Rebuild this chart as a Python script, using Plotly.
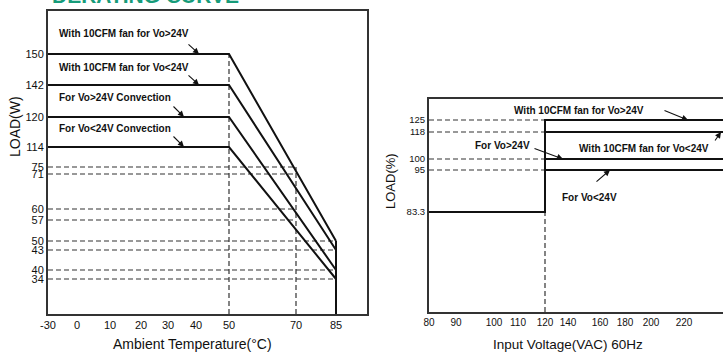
import numpy as np
import plotly.graph_objects as go

# ---------------- data ----------------
# Left chart: derating vs ambient temperature
temp_ticks = [-30, 0, 10, 20, 30, 40, 50, 70, 85]
load_ticks = [34, 40, 43, 50, 57, 60, 71, 75, 114, 120, 142, 150]

curve_names = ["With 10CFM fan for Vo>24V", "With 10CFM fan for Vo<24V",
               "For Vo>24V Convection", "For Vo<24V Convection"]
curve_temps = [-30, 50, 85]
fan_gt24 = [150, 150, 50]
fan_lt24 = [142, 142, 43]
conv_gt24 = [120, 120, 40]
conv_lt24 = [114, 114, 34]
mid_levels = [75, 71, 60, 57]      # reference levels read at 70 °C
end_levels = [50, 43, 40, 34]      # levels at 85 °C

# Right chart: derating vs input voltage
volt_ticks = [80, 90, 100, 110, 120, 140, 160, 180, 200, 220]
pct_ticks = [83.3, 95, 100, 118, 125]
volt_pts = [80, 120, 120, 264]
low_pct = 83.3
pct_levels = [125, 118, 100, 95]
pct_names = ["With 10CFM fan for Vo>24V", "With 10CFM fan for Vo<24V",
             "For Vo>24V", "For Vo<24V"]

# ---------------- axis scales (piecewise, as drawn in the original) ----------------
temp_scale = [0, 29, 62, 93, 120, 148, 181, 248, 288]
load_scale = [0, 35, 44, 64, 73, 94, 105, 140, 147, 167, 197, 229, 260]
volt_scale = [0, 27, 65, 89, 116, 139, 171, 196, 222, 255]
pct_scale = [0, 100, 142, 153, 180, 192]


def sx(v):
    return np.interp(v, temp_ticks, temp_scale)


def sy(v):
    return np.interp(v, [0] + load_ticks, load_scale)


def sv(v):
    v = np.asarray(v, dtype=float)
    out = np.interp(v, volt_ticks, volt_scale)
    slope = (volt_scale[-1] - volt_scale[-2]) / (volt_ticks[-1] - volt_ticks[-2])
    return np.where(v > volt_ticks[-1], volt_scale[-1] + (v - volt_ticks[-1]) * slope, out)


def sp(v):
    return np.interp(v, [0] + pct_ticks, pct_scale)


FONT = "Liberation Sans, Arial, sans-serif"
DASH = "5px,3px"
fig = go.Figure()


def line(xs, ys, xa="x", ya="y", dash=None, width=2.0, color="#111"):
    fig.add_trace(go.Scatter(x=xs, y=ys, xaxis=xa, yaxis=ya, mode="lines",
                             line=dict(color=color, width=width, dash=dash),
                             hoverinfo="skip", showlegend=False))


# ---- left chart ----
line(sx([50, 50]), sy([0, 150]), dash=DASH, width=1.2, color="#333")
line(sx([70, 70]), sy([0, 75]), dash=DASH, width=1.2, color="#333")
for lv in mid_levels:
    line(sx([-30, 70]), sy([lv, lv]), dash=DASH, width=1.2, color="#333")
for lv in end_levels:
    line(sx([-30, 85]), sy([lv, lv]), dash=DASH, width=1.2, color="#333")
for vals in [fan_gt24, fan_lt24, conv_gt24, conv_lt24]:
    line(sx(curve_temps), sy(vals))
line(sx([85, 85]), sy([0, max(end_levels)]))

# ---- right chart ----
for lv in pct_levels:
    line(sv([80, 120]), sp([lv, lv]), "x2", "y2", dash=DASH, width=1.2, color="#333")
line(sv([120, 120]), sp([0, low_pct]), "x2", "y2", dash=DASH, width=1.2, color="#333")
for lv in pct_levels:
    line(sv(volt_pts), sp([low_pct, low_pct, lv, lv]), "x2", "y2")

# ---------------- annotations ----------------
ann = []


def text(x, y, s, xref="x", yref="y", xanchor="left", size=10, bold=True):
    ann.append(dict(x=x, y=y, xref=xref, yref=yref, text=f"<b>{s}</b>" if bold else s,
                    showarrow=False, xanchor=xanchor, yanchor="middle",
                    font=dict(family=FONT, size=size, color="#111")))


def arrow(x, y, ax, ay, xref="x", yref="y"):
    ann.append(dict(x=x, y=y, xref=xref, yref=yref, text="", showarrow=True,
                    ax=ax, ay=ay, arrowhead=2, arrowsize=1.1, arrowwidth=1.1,
                    arrowcolor="#111", standoff=0, startstandoff=0))


def title(x, y, s, size, angle=0):
    ann.append(dict(x=x / 723, y=(352 - y) / 352, xref="paper", yref="paper",
                    text=s, textangle=angle, showarrow=False,
                    xanchor="center", yanchor="middle",
                    font=dict(family=FONT, size=size, color="#111")))


# left labels
text(9, 281, curve_names[0])
text(9, 247, curve_names[1])
text(9, 217, curve_names[2])
text(9, 186, curve_names[3])
arrow(151, sy(150), -12, -11)
arrow(151, sy(142), -12, -11)
arrow(136, sy(120), -12, -12)
arrow(136, sy(114), -12, -12)

# right labels
text(83, 202, pct_names[0], "x2", "y2")
text(103, 167, pct_names[2], "x2", "y2", xanchor="right")
text(148, 164, pct_names[1], "x2", "y2")
text(131, 115, pct_names[3], "x2", "y2")
arrow(259, sp(125), -25, -10, "x2", "y2")
arrow(134, sp(100), -30, -11, "x2", "y2")
arrow(292, sp(118), -7, 10, "x2", "y2")
arrow(181, sp(95), -15, 13, "x2", "y2")

# axis titles
title(192, 344, "Ambient Temperature(°C)", 14)
title(15, 127, "LOAD(W)", 14, -90)
title(568, 344, "Input Voltage(VAC) 60Hz", 13.5)
title(390, 181, "LOAD(%)", 13, -90)

# cropped title
ann.append(dict(x=50 / 723, y=1 - 9 / 352, xref="paper", yref="paper",
                text="<b>DERATING CURVE</b>", showarrow=False, xanchor="left", yanchor="bottom",
                font=dict(family=FONT, size=21, color="#169b79")))

axis_common = dict(showgrid=False, zeroline=False, showline=True, mirror=True,
                   linecolor="#333", linewidth=2, ticks="", fixedrange=True,
                   automargin=False)

fig.update_layout(
    width=723, height=352,
    margin=dict(l=0, r=0, t=0, b=0, pad=0, autoexpand=False),
    paper_bgcolor="white", plot_bgcolor="white",
    showlegend=False,
    annotations=ann,
    xaxis=dict(domain=[48 / 723, 367 / 723], range=[0, 319], anchor="y",
               tickvals=list(sx(temp_ticks)), ticktext=[str(t) for t in temp_ticks],
               tickfont=dict(family=FONT, size=11, color="#111"), **axis_common),
    yaxis=dict(domain=[38 / 352, 341 / 352], range=[0, 303], anchor="x",
               tickvals=list(sy(load_ticks)), ticktext=[str(t) for t in load_ticks],
               tickfont=dict(family=FONT, size=11, color="#111"), **axis_common),
    xaxis2=dict(domain=[429 / 723, 1], range=[0, 294], anchor="y2",
                tickvals=list(sv(volt_ticks)), ticktext=[str(t) for t in volt_ticks],
                tickfont=dict(family=FONT, size=10, color="#111"), **axis_common),
    yaxis2=dict(domain=[40 / 352, 253 / 352], range=[0, 213], anchor="x2",
                tickvals=list(sp(pct_ticks)), ticktext=[str(t) for t in pct_ticks],
                tickfont=dict(family=FONT, size=9.5, color="#111"), **axis_common),
)

fig.write_html("out.html", config={"displayModeBar": False},
               post_script="document.body.style.margin='0';document.body.style.overflow='hidden';")
